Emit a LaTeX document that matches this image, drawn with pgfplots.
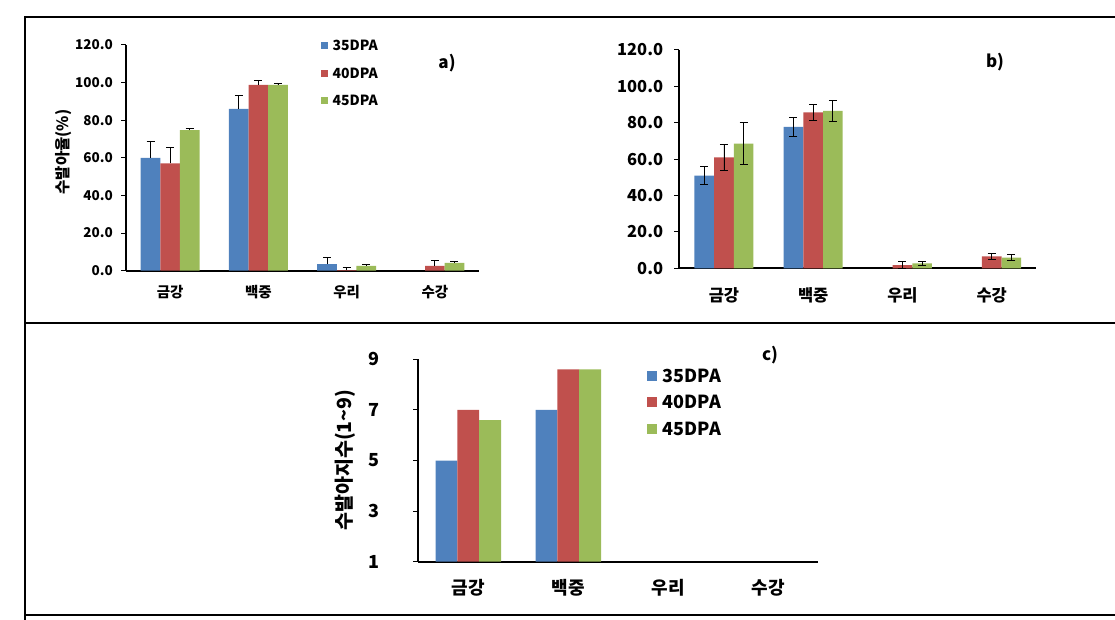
\documentclass[border=0pt]{standalone}
\usepackage{pgfplots}
\pgfplotsset{compat=1.18}
\usepackage{fontspec}
\setmainfont{Noto Sans CJK KR}

\definecolor{cblue}{HTML}{4F81BD}
\definecolor{cred}{HTML}{C0504D}
\definecolor{cgreen}{HTML}{9BBB59}

\pgfplotsset{
  panel/.style={
    scale only axis,
    axis x line*=bottom, axis y line*=left,
    axis line style={-, line width=1.9pt, black},
    xmin=-0.5, xmax=3.5,
    xtick={0,1,2,3}, xticklabels={금강,백중,우리,수강},
    xtick style={draw=none},
    tick align=outside, major tick length=5pt,
    ytick style={black, line width=1pt},
    ybar=0pt,
    enlargelimits=false,
    yticklabel style={inner sep=0pt, anchor=east},
    xticklabel style={inner sep=0pt, anchor=north},
  },
  errs/.style={error bars/.cd, y dir=#1, y explicit,
    error bar style={black, line width=0.8pt},
    error mark options={rotate=90, mark size=4pt, black, line width=0.8pt}},
  sq/.style={legend image code/.code={\fill[##1] (0pt,-#1) rectangle (2*#1,#1);}},
}

\begin{document}
\begin{tikzpicture}
\path[use as bounding box] (0,0) rectangle (1115pt,-620pt);

% frame
\draw[line width=1.3pt] (24pt,-17pt) -- (1115pt,-17pt);
\draw[line width=1.3pt] (24pt,-323pt) -- (1115pt,-323pt);
\draw[line width=1.3pt] (24pt,-615pt) -- (1115pt,-615pt);
\draw[line width=1.3pt] (25pt,-17pt) -- (25pt,-620pt);

% a)
\begin{axis}[panel,
  at={(126pt,-270.7pt)}, anchor=south west,
  width=353pt, height=225.7pt,
  bar width=19.6pt,
  ymin=0, ymax=120,
  ytick={0,20,40,60,80,100,120},
  yticklabels={0.0,20.0,40.0,60.0,80.0,100.0,120.0},
  yticklabel style={font=\fontsize{13.5}{14}\bfseries\selectfont, xshift=-8pt},
  xticklabel style={font=\fontsize{14.5}{15}\bfseries\selectfont, yshift=-9pt},
  ylabel={수발아율(\%)},
  ylabel style={at={(axis description cs:-0.178,0.526)}, anchor=center,
    font=\fontsize{15.5}{16}\bfseries\selectfont},
  sq=3.5pt,
  legend cell align=left,
  legend style={at={(axis description cs:0.552,1.022)}, anchor=north west,
    draw=none, fill=none, inner sep=0pt,
    font=\fontsize{14}{14}\bfseries\selectfont,
    nodes={inner sep=0.5pt, text height=10pt, text depth=0pt},
    row sep=16.5pt,
    /tikz/every odd column/.append style={column sep=4pt}},
]
\addplot[fill=cblue, draw=none, errs=plus] coordinates {
  (0,60) +- (0,8.5) (1,86) +- (0,7.2) (2,3.5) +- (0,3.5)};
\addplot[fill=cred, draw=none, errs=plus] coordinates {
  (0,57) +- (0,8.3) (1,98.8) +- (0,2.5) (2,0.3) +- (0,1.5) (3,2.5) +- (0,3)};
\addplot[fill=cgreen, draw=none, errs=plus] coordinates {
  (0,74.8) +- (0,1) (1,98.8) +- (0,1) (2,2.6) +- (0,0.8) (3,4.1) +- (0,1)};
\legend{35DPA,40DPA,45DPA}
\end{axis}
\node[font=\fontsize{17}{17}\bfseries\selectfont] at (447pt,-63pt) {a)};

% b)
\begin{axis}[panel,
  at={(679.3pt,-268.3pt)}, anchor=south west,
  width=357pt, height=218.3pt,
  bar width=19.7pt,
  ymin=0, ymax=120,
  ytick={0,20,40,60,80,100,120},
  yticklabels={0.0,20.0,40.0,60.0,80.0,100.0,120.0},
  yticklabel style={font=\fontsize{16.5}{17}\bfseries\selectfont, xshift=-11pt},
  xticklabel style={font=\fontsize{16.5}{17}\bfseries\selectfont, yshift=-14pt},
]
\addplot[fill=cblue, draw=none, errs=both] coordinates {
  (0,51) +- (0,5) (1,77.8) +- (0,5.2)};
\addplot[fill=cred, draw=none, errs=both] coordinates {
  (0,61) +- (0,7.2) (1,85.7) +- (0,4.2) (2,1.8) +- (0,1.8) (3,6.6) +- (0,1.8)};
\addplot[fill=cgreen, draw=none, errs=both] coordinates {
  (0,68.5) +- (0,11.5) (1,86.5) +- (0,6) (2,2.7) +- (0,1.2) (3,5.9) +- (0,1.8)};
\end{axis}
\node[font=\fontsize{17}{17}\bfseries\selectfont] at (995pt,-62pt) {b)};

% c)
\begin{axis}[panel,
  at={(418.3pt,-561.7pt)}, anchor=south west,
  width=400pt, height=202.4pt,
  bar width=21.8pt,
  ymin=1, ymax=9,
  ytick={1,3,5,7,9},
  yticklabels={1,3,5,7,9},
  yticklabel style={font=\fontsize{18}{18}\bfseries\selectfont, xshift=-34pt},
  xticklabel style={font=\fontsize{18}{18}\bfseries\selectfont, yshift=-12pt},
  ylabel={수발아지수(1\textasciitilde9)},
  ylabel style={at={(axis description cs:-0.183,0.502)}, anchor=center,
    font=\fontsize{19.5}{20}\bfseries\selectfont},
  sq=5pt,
  legend cell align=left,
  legend style={at={(axis description cs:0.572,0.955)}, anchor=north west,
    draw=none, fill=none, inner sep=0pt,
    font=\fontsize{18}{18}\bfseries\selectfont,
    nodes={inner sep=0.5pt, text height=13pt, text depth=0pt},
    row sep=12.5pt,
    /tikz/every odd column/.append style={column sep=5pt}},
]
\addplot[fill=cblue, draw=none] coordinates {(0,5) (1,7)};
\addplot[fill=cred, draw=none] coordinates {(0,7) (1,8.6)};
\addplot[fill=cgreen, draw=none] coordinates {(0,6.6) (1,8.6)};
\legend{35DPA,40DPA,45DPA}
\end{axis}
\node[font=\fontsize{17}{17}\bfseries\selectfont] at (770pt,-355pt) {c)};
\end{tikzpicture}
\end{document}
